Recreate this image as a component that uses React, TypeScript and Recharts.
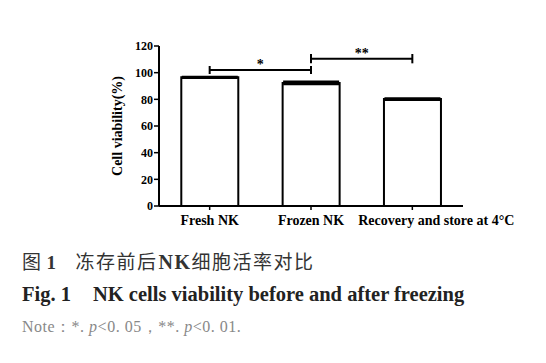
import { BarChart, Bar, XAxis, YAxis, ErrorBar, ReferenceLine, Label } from 'recharts';

const groups = ['Fresh NK', 'Frozen NK', 'Recovery and store at 4°C'];
const viability = [96.5, 92.3, 80.2];
const sem = [0.7, 1.2, 0.8];
const yTicks = [0, 20, 40, 60, 80, 100, 120];

// significance brackets: from group, to group, height, half tick length, mark
const bracketFrom = ['Fresh NK', 'Frozen NK'];
const bracketTo = ['Frozen NK', 'Recovery and store at 4°C'];
const bracketY = [102, 110.5];
const bracketTick = [3, 3.5];
const bracketMark = ['*', '**'];

const serif = '"Liberation Serif", "Times New Roman", serif';
const cjk = '"Noto Sans CJK SC", sans-serif';

const data = groups.map((name, i) => ({ name, value: viability[i], err: sem[i] }));

// last label sits a bit to the right in the original figure
const GroupTick = (props: any) => {
  const { x, y, payload, index } = props;
  const shift = index === groups.length - 1 ? 24 : 0;
  return (
    <text
      x={x + shift}
      y={y + 13}
      textAnchor="middle"
      fill="#000"
      fontSize={14}
      fontWeight="bold"
      fontFamily={serif}
    >
      {payload.value}
    </text>
  );
};

export default function App() {
  return (
    <div style={{ position: 'absolute', left: 0, top: 0, width: 546, height: 363, background: '#fff' }}>
      <BarChart
        width={546}
        height={235}
        data={data}
        barCategoryGap="22%"
        margin={{ top: 46, right: 83, left: 99, bottom: 4 }}
      >
        <XAxis
          dataKey="name"
          axisLine={{ stroke: '#000', strokeWidth: 2 }}
          tickLine={{ stroke: '#000', strokeWidth: 1.5 }}
          tickSize={4}
          height={25}
          interval={0}
          tick={<GroupTick />}
        />
        <YAxis
          domain={[0, 120]}
          ticks={yTicks}
          width={60}
          axisLine={{ stroke: '#000', strokeWidth: 2 }}
          tickLine={{ stroke: '#000', strokeWidth: 1.5 }}
          tickSize={5}
          tickMargin={1}
          tick={{ fill: '#000', fontSize: 12, fontWeight: 'bold', fontFamily: serif }}
        >
          <Label
            value="Cell viability(%)"
            angle={-90}
            position="insideLeft"
            dx={13}
            style={{ fill: '#000', fontSize: 14, fontWeight: 'bold', fontFamily: serif, textAnchor: 'middle' }}
          />
        </YAxis>
        <Bar dataKey="value" fill="#fff" stroke="#000" strokeWidth={2} isAnimationActive={false}>
          <ErrorBar dataKey="err" width={28} stroke="#000" strokeWidth={1.5} direction="y" />
        </Bar>
        {bracketY.map((y, i) => (
          <ReferenceLine
            key={'h' + i}
            segment={[{ x: bracketFrom[i], y }, { x: bracketTo[i], y }]}
            stroke="#000"
            strokeWidth={2}
          >
            <Label
              value={bracketMark[i]}
              position="top"
              offset={1}
              style={{ fill: '#000', fontSize: 14, fontWeight: 'bold', fontFamily: serif }}
            />
          </ReferenceLine>
        ))}
        {bracketY.map((y, i) => (
          <ReferenceLine
            key={'l' + i}
            segment={[{ x: bracketFrom[i], y: y - bracketTick[i] }, { x: bracketFrom[i], y: y + bracketTick[i] }]}
            stroke="#000"
            strokeWidth={2}
          />
        ))}
        {bracketY.map((y, i) => (
          <ReferenceLine
            key={'r' + i}
            segment={[{ x: bracketTo[i], y: y - bracketTick[i] }, { x: bracketTo[i], y: y + bracketTick[i] }]}
            stroke="#000"
            strokeWidth={2}
          />
        ))}
      </BarChart>
      <div style={{ position: 'absolute', left: 22, top: 251, fontSize: 19, lineHeight: '19px', letterSpacing: 1.5, color: '#333', fontFamily: cjk, whiteSpace: 'nowrap' }}>
        <span>图</span>
        <span style={{ fontFamily: serif, fontWeight: 'bold', marginLeft: 4 }}>1</span>
        <span style={{ marginLeft: 18 }}>冻存前后</span>
        <span style={{ fontFamily: serif, fontWeight: 'bold', fontSize: 20, marginLeft: 1 }}>NK</span>
        <span>细胞活率对比</span>
      </div>
      <div style={{ position: 'absolute', left: 22, top: 284, fontSize: 20.5, lineHeight: '20px', color: '#222', fontFamily: serif, fontWeight: 'bold', whiteSpace: 'nowrap' }}>
        Fig. 1<span style={{ marginLeft: 22 }}>NK cells viability before and after freezing</span>
      </div>
      <div style={{ position: 'absolute', left: 22, top: 319, fontSize: 16, lineHeight: '16px', letterSpacing: 0.5, color: '#888', fontFamily: serif, whiteSpace: 'nowrap' }}>
        Note：*. <i>p</i>&lt;0. 05，**. <i>p</i>&lt;0. 01.
      </div>
    </div>
  );
}
